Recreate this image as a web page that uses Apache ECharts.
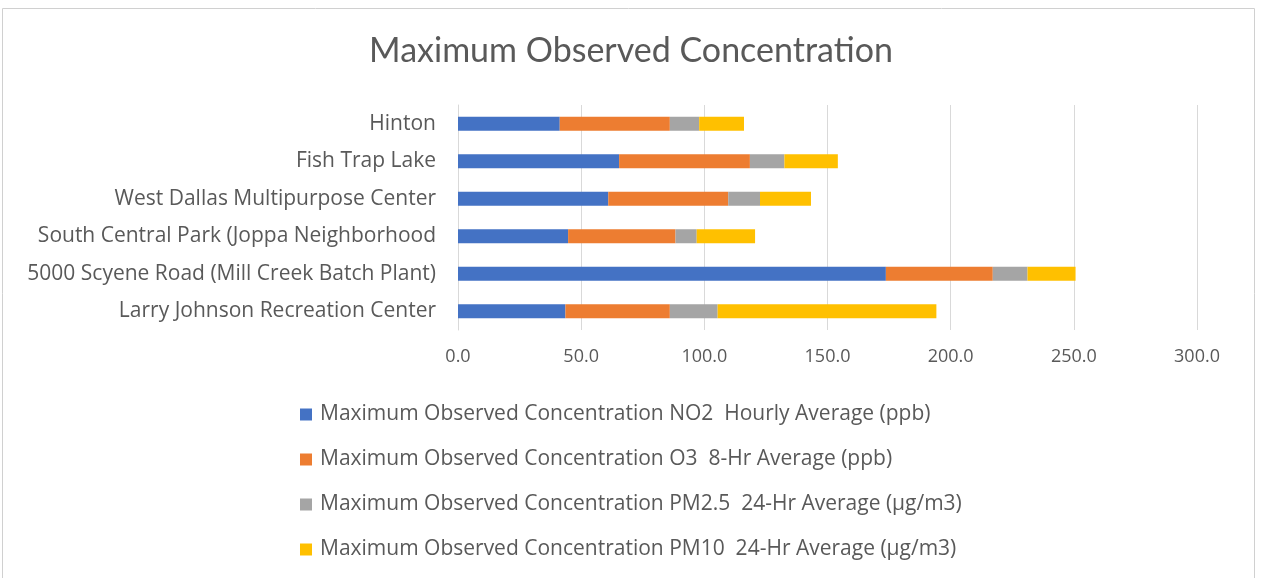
<!DOCTYPE html>
<html>
<head>
<meta charset="utf-8">
<script src="https://cdn.jsdelivr.net/npm/echarts@6/dist/echarts.min.js"></script>
<style>
  html, body { margin: 0; padding: 0; background: #fff; }
  #chart { width: 1262px; height: 578px; }
</style>
</head>
<body>
<div id="chart"></div>
<script>
// Monitoring sites, listed bottom to top on the category axis
const sites = [
  'Larry Johnson Recreation Center',
  '5000 Scyene Road (Mill Creek Batch Plant)',
  'South Central Park (Joppa Neighborhood',
  'West Dallas Multipurpose Center',
  'Fish Trap Lake',
  'Hinton'
];

const seriesNames = [
  'Maximum Observed Concentration NO2  Hourly Average (ppb)',
  'Maximum Observed Concentration O3  8-Hr Average (ppb)',
  'Maximum Observed Concentration PM2.5  24-Hr Average (\u00b5g/m3)',
  'Maximum Observed Concentration PM10  24-Hr Average (\u00b5g/m3)'
];

// Values per site, same order as `sites`
const no2  = [43.6, 173.7, 44.7, 61.0, 65.4, 41.3];
const o3   = [42.4, 43.4, 43.6, 48.7, 53.1, 44.7];
const pm25 = [19.4, 14.1, 8.6, 12.9, 14.0, 11.9];
const pm10 = [88.8, 19.5, 23.7, 20.7, 21.7, 18.2];

const axisTicks = [0, 50, 100, 150, 200, 250, 300];

const colors = ['#4472C4', '#ED7D31', '#A5A5A5', '#FFC000'];
const values = [no2, o3, pm25, pm10];
const TITLE_FONT = 'Lato';
const FONT = 'Open Sans';

const chart = echarts.init(document.getElementById('chart'));

chart.setOption({
  animation: false,
  color: colors,
  textStyle: { fontFamily: FONT },
  title: {
    text: 'Maximum Observed Concentration',
    left: 'center',
    top: 29,
    textStyle: { fontFamily: TITLE_FONT, fontSize: 34, fontWeight: 'normal', color: '#595959' }
  },
  graphic: [{
    type: 'rect',
    shape: { x: 2.5, y: 8.5, width: 1252, height: 600 },
    style: { fill: 'none', stroke: '#D0D0D0', lineWidth: 1 },
    silent: true
  }],
  grid: { left: 458, right: 65, top: 105, bottom: 248 },
  xAxis: {
    type: 'value',
    min: axisTicks[0],
    max: axisTicks[axisTicks.length - 1],
    interval: axisTicks[1] - axisTicks[0],
    axisLine: { show: false },
    axisTick: { show: false },
    splitLine: { lineStyle: { color: '#D9D9D9', width: 1 } },
    axisLabel: {
      color: '#595959',
      fontFamily: FONT,
      fontSize: 18,
      margin: 18,
      formatter: v => v.toFixed(1)
    }
  },
  yAxis: {
    type: 'category',
    data: sites,
    axisLine: { show: true, lineStyle: { color: '#D9D9D9' } },
    axisTick: { show: false },
    axisLabel: { color: '#595959', fontFamily: FONT, fontSize: 21, margin: 22 }
  },
  legend: {
    orient: 'vertical',
    left: 300,
    top: 404,
    padding: 0,
    itemWidth: 12,
    itemHeight: 12,
    itemGap: 24,
    icon: 'rect',
    textStyle: { color: '#595959', fontFamily: FONT, fontSize: 21, lineHeight: 18, padding: [0, 0, 0, 3] },
    data: seriesNames
  },
  series: seriesNames.map((name, i) => ({
    name,
    type: 'bar',
    stack: 'total',
    barWidth: 14,
    data: values[i],
    itemStyle: { color: colors[i] }
  }))
});
</script>
</body>
</html>
